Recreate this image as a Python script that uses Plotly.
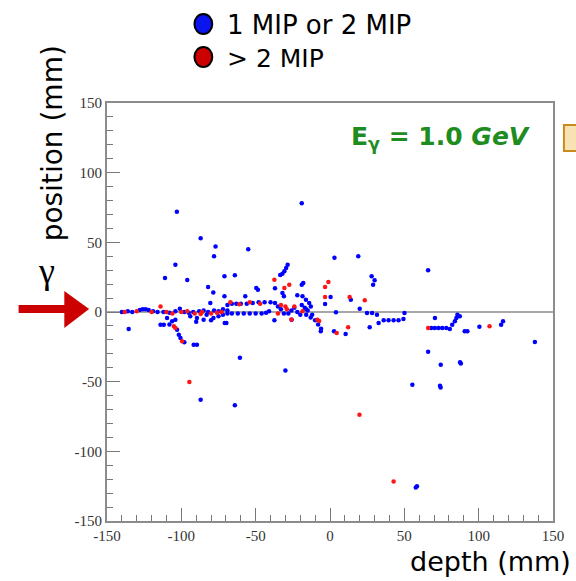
import plotly.graph_objects as go

# ---------------- data (depth mm, position mm) ----------------
blue_x = [
    -103, -19, -87, -77, -55, -78, 3, 19, -104,
    -28.5, -29.5, -30.7, -32, -33.5,
    -111, -96, -71, -64, -82, -78.5, -80.5, 66,
    28, 30, 29, -37, -49.6, -48.5, -57, -71, -32, -31,
    -19, -18, -22, -18.5, -16.2, -14, -12.9, 0.4, -3.3, 14, 20, 4,
    -140, -136, -133, -128, -126, -124, -122, -119, -116, -112, -108, -104,
    -101, -98, -95, -92, -88, -85, -82, -78, -75, -72,
    -109.6, -111.8, -114, -108, -106.2, -104, -102.9, -101.7, -100.6, -98,
    -91.7, -89.5,
    -94, -89.5, -85, -83, -78.4, -80, -90,
    -69, -66, -63, -60, -56, -52, -48, -44, -40, -37, -35, -33,
    -69, -66, -62, -58, -54, -50, -46, -43, -41, -69, -72, -75,
    -31, -28, -26, -24, -22, -20,
    -25.8, -37.4, -70.8, -69.7, -16, -13, -10, -8, -6, -6.2, -17, -15,
    -19, -16, -12,
    2.7, 10.5, 26.7, 24.9, 28.3, 31.6, 32.7, 36.1, 39.4, 42.8, 46.1, 49.4, 50.1,
    68.1, 70.5, 73, 75.5, 78.2, 80.6, 82.2, 84, 85, 85.7, 87.3, 70.6,
    90.6, 92.4, 100.5, 115.1, 116.4, 137.8,
    66, 74.5, 88, 87.5, 55.4, 74.4, 74, 57.7, 58.5,
    -87, -64, -60.6, -30, -135.4,
]
blue_y = [
    72, 78, 53, 47, 45, 40, 39, 40, 34,
    34, 31.5, 29.2, 27.5, 26.5,
    24.4, 23, 25.6, 26.3, 18, 14, 6.5, 30,
    25.6, 22.8, 19.6, 17, 17.2, 16, 11.3, 11.3, 13.6, 11.3,
    19.6, 20.8, 12, 11.3, 8.8, 6.5, 4, 10.8, 5.7, 8.8, 2.4, -0.2,
    0, 0.5, 0, 1.5, 2, 2, 1.5, 0.5, 0, 0, -0.5, 0.5,
    2.4, 0, -0.5, 0, 0.5, 1, 0, 1, 0.5, 2,
    -4.3, -9.1, -9.1, -9, -6.7, -5.5, -12.7, -16.3, -18.7, -21.8,
    -23.5, -23.5,
    -3, -4.3, -5.5, -2, -4.3, -6, -7,
    5, 6, 6, 6, 6, 6.5, 7, 7, 7, 6.5, 4, 2,
    -1, -1, -1, -1, -1, -1, -1, -0.5, 0.5, 1, -2, -3,
    -1, -1, 1, 3, 0, -2,
    -5.5, -6, -7.9, -7.9, -2, -4, -6, -9, -12, -13.9, 3, 1,
    5, 2, -2,
    -13.9, -15.8, -11, -0.7, -0.7, -1.9, -7.9, -6, -6, -6, -6, -5, -0.7,
    -11.5, -11.5, -11.5, -11.5, -11.5, -12.2, -9.1, -6.7, -4.3, -1.9, -3.1, -4.3,
    -13.9, -13.9, -10.5, -9.1, -6.7, -21.5,
    -28.5, -37.8, -37, -36, -52.2, -54.1, -53, -125.9, -125,
    -63, -67, -32.8, -41.9, -12.2,
]

red_x = [
    -138, -130, -120, -114, -110, -106, -100, -96, -91, -86, -80, -76, -73,
    -105, -104, -99.5, -87,
    -67, -61, -54, -47, -33, -30,
    -24, -18.5, -8.5, -26, -35, -29, -7.3,
    -37.4, -30.7, -27.4,
    -1.1, -3.3, 13.2, 23.4, 4.5, 12.2, -3.3,
    66, 107.3,
    -94.6, 19.8, 42.8,
]
red_y = [
    0, 0.5, 0, 4, 0, -1, 0, 0.5, -1, 0, -1, -0.5, 0,
    -10.3, -11.5, -21, -1.5,
    7, 5.5, 7, 6, 5, 4,
    4, 0.5, -5.5, -5.3, -1, 2, -6.5,
    23.2, 17.2, 19.6,
    21.5, 10.8, 10.8, 8.4, -15, -11, 18,
    -11.5, -10.3,
    -50.3, -73.7, -121.6,
]

legend_labels = ["1 MIP or 2 MIP", "> 2 MIP"]
x_ticks = [-150, -100, -50, 0, 50, 100, 150]
y_ticks = [-150, -100, -50, 0, 50, 100, 150]

# ---------------- layout geometry ----------------
W, H = 576, 581
L, R, T, B = 107, 556, 103, 521


def px(xp):
    return (xp - L) / (R - L)


def py(yp):
    return (B - yp) / (B - T)


fig = go.Figure()
fig.add_trace(go.Scatter(x=blue_x, y=blue_y, mode="markers", name=legend_labels[0],
                         marker=dict(color="#0000ff", size=4.5, line=dict(width=0)),
                         showlegend=False))
fig.add_trace(go.Scatter(x=red_x, y=red_y, mode="markers", name=legend_labels[1],
                         marker=dict(color="#ff1515", size=4.5, line=dict(width=0)),
                         showlegend=False))

axis_common = dict(
    range=[-150, 150], showgrid=False, ticks="inside", ticklen=13, tickwidth=1,
    tickcolor="#777777", showline=True, linecolor="#8c8c8c", linewidth=2,
    mirror=True, tickfont=dict(family="Liberation Serif", size=15, color="#333333"),
    minor=dict(dtick=10, ticks="inside", ticklen=6, tickcolor="#777777", tickwidth=1),
)
fig.update_xaxes(**axis_common, tickvals=x_ticks, ticktext=[str(v) for v in x_ticks],
                 zeroline=False)
fig.update_yaxes(**axis_common, tickvals=y_ticks, ticktext=[str(v) for v in y_ticks],
                 zeroline=True, zerolinecolor="#a8a8a8", zerolinewidth=2)

shapes = []
# legend circles
for cy, col in [(24, "#0a14f0"), (57, "#cc0000")]:
    shapes.append(dict(type="circle", xref="paper", yref="paper",
                       x0=px(195), x1=px(213), y0=py(cy + 10), y1=py(cy - 10),
                       fillcolor=col, line=dict(color="black", width=2)))
# gamma arrow
shapes.append(dict(type="rect", xref="paper", yref="paper",
                   x0=px(18), x1=px(66), y0=py(313), y1=py(305),
                   fillcolor="#cc0000", line=dict(width=0)))
shapes.append(dict(type="path", xref="paper", yref="paper",
                   path=f"M {px(64)},{py(291)} L {px(89)},{py(309)} L {px(64)},{py(328)} Z",
                   fillcolor="#cc0000", line=dict(width=0)))
# partial box at right edge
shapes.append(dict(type="rect", xref="paper", yref="paper",
                   x0=px(567), x1=px(600), y0=py(151), y1=py(125),
                   fillcolor="#f8e2b4", line=dict(color="#c88c1e", width=2)))

annotations = [
    dict(text=legend_labels[0], x=px(226), y=py(25), xref="paper", yref="paper",
         xanchor="left", yanchor="middle", showarrow=False,
         font=dict(family="DejaVu Sans", size=26, color="black")),
    dict(text=legend_labels[1], x=px(226), y=py(58), xref="paper", yref="paper",
         xanchor="left", yanchor="middle", showarrow=False,
         font=dict(family="DejaVu Sans", size=25, color="black")),
    dict(text="position (mm)", x=px(52), y=py(143), xref="paper", yref="paper",
         xanchor="center", yanchor="middle", textangle=-90, showarrow=False,
         font=dict(family="DejaVu Sans", size=28, color="black")),
    dict(text="depth (mm)", x=px(410), y=py(561), xref="paper", yref="paper",
         xanchor="left", yanchor="middle", showarrow=False,
         font=dict(family="DejaVu Sans", size=27, color="black")),
    dict(text="γ", x=px(46), y=py(271), xref="paper", yref="paper",
         xanchor="center", yanchor="middle", showarrow=False,
         font=dict(family="Liberation Serif", size=36, color="black")),
    dict(text="<b>E<sub>γ</sub> = 1.0 <i>GeV</i></b>", x=px(443), y=py(138),
         xref="paper", yref="paper", xanchor="center", yanchor="middle",
         showarrow=False, font=dict(family="DejaVu Sans", size=25, color="#1e8c1e")),
]

fig.update_layout(
    width=W, height=H,
    margin=dict(l=L, r=W - R, t=T, b=H - B, pad=0),
    paper_bgcolor="white", plot_bgcolor="white",
    shapes=shapes, annotations=annotations, showlegend=False,
)

fig.write_html("out.html", config={"displayModeBar": False},
               post_script="document.body.style.margin='0';document.body.style.overflow='hidden';")
